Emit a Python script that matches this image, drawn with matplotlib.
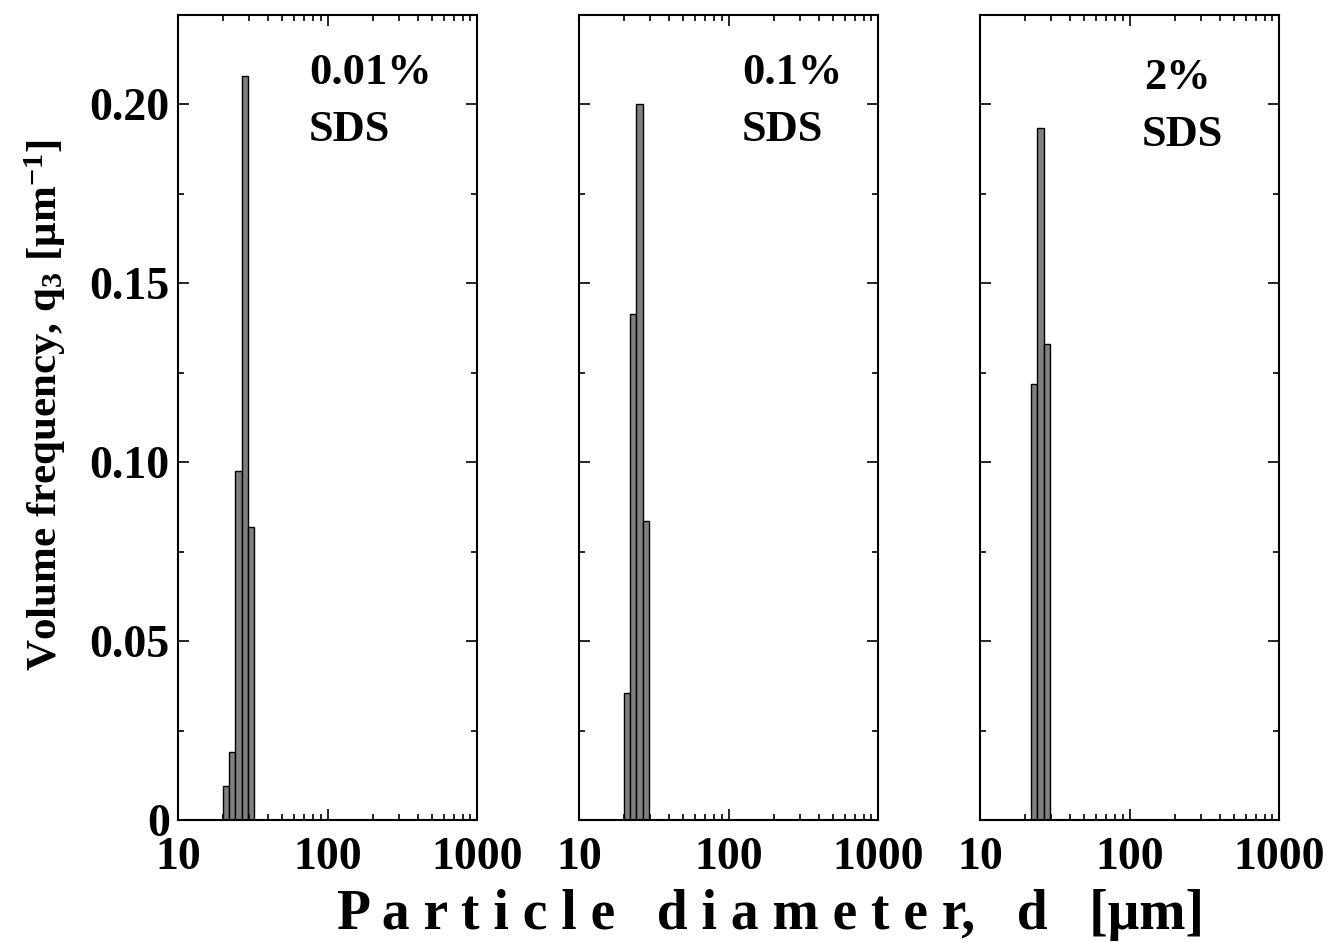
import matplotlib
matplotlib.use("Agg")
import matplotlib.pyplot as plt
from matplotlib.ticker import LogLocator, FuncFormatter, MultipleLocator, NullFormatter

plt.rcParams['font.family'] = ['Liberation Serif', 'DejaVu Serif']
plt.rcParams['font.weight'] = 'bold'
plt.rcParams['mathtext.fontset'] = 'custom'
plt.rcParams['mathtext.rm'] = 'Liberation Serif:bold'
plt.rcParams['mathtext.it'] = 'Liberation Serif:bold'
plt.rcParams['mathtext.bf'] = 'Liberation Serif:bold'

# bin edges (um), shared by all panels
bin_left = [20.0, 22.0, 24.2, 26.6, 29.3]
bin_right = [22.0, 24.2, 26.6, 29.3, 32.2]

# volume frequency per bin for each SDS concentration
q3_001 = [0.0095, 0.019, 0.0975, 0.208, 0.082]
q3_01 = [0.0355, 0.1415, 0.200, 0.0835, 0.0]
q3_2 = [0.0, 0.122, 0.1935, 0.133, 0.0]

labels = ["0.01%", "0.1%", "2%"]
series = [q3_001, q3_01, q3_2]
yticks = [0, 0.05, 0.10, 0.15, 0.20]
yticklabels = ["0", "0.05", "0.10", "0.15", "0.20"]

fig = plt.figure(figsize=(13.28, 9.43), dpi=100)
lefts = [178 / 1328, 579 / 1328, 980 / 1328]
width = 299 / 1328
bottom = 123 / 943
height = 805 / 943
text_pos = [(0.438, 0.928, 0.857), (0.545, 0.928, 0.857), (0.548, 0.922, 0.851)]

for i in range(3):
    ax = fig.add_axes([lefts[i], bottom, width, height])
    widths = [r - l for l, r in zip(bin_left, bin_right)]
    ax.bar(bin_left, series[i], width=widths, align='edge',
           color='#7f7f7f', edgecolor='black', linewidth=1.0)
    ax.set_xscale('log')
    ax.set_xlim(10, 1000)
    ax.set_ylim(0, 0.225)
    ax.xaxis.set_major_locator(LogLocator(base=10, numticks=5))
    ax.xaxis.set_minor_locator(LogLocator(base=10, subs=range(2, 10), numticks=10))
    ax.xaxis.set_major_formatter(FuncFormatter(lambda v, p: f"{v:g}"))
    ax.xaxis.set_minor_formatter(NullFormatter())
    ax.set_yticks(yticks)
    ax.yaxis.set_minor_locator(MultipleLocator(0.025))
    if i == 0:
        ax.set_yticklabels(yticklabels)
    else:
        ax.set_yticklabels([])
    ax.tick_params(which='both', direction='in', top=True, right=True,
                   labelsize=33, width=1.2)
    ax.tick_params(which='major', length=8)
    ax.tick_params(which='minor', length=4)
    ax.tick_params(axis='x', which='major', pad=12)
    ax.tick_params(axis='y', which='major', pad=6)
    for s in ax.spines.values():
        s.set_linewidth(1.5)
    for t in ax.get_xticklabels() + ax.get_yticklabels():
        t.set_fontweight('bold')
    tx, ty1, ty2 = text_pos[i]
    ax.text(tx, ty1, labels[i], transform=ax.transAxes, fontsize=32,
            fontweight='bold', ha='left', va='center')
    ax.text(tx - (0.007 if i == 2 else 0), ty2, "SDS", transform=ax.transAxes,
            fontsize=32, fontweight='bold', ha='left', va='center')

fig.text(0.034, 0.5705, r"Volume frequency, q$_3$ [$\mu$m$^{-1}$]", rotation=90,
         ha='center', va='center', fontsize=31, fontweight='bold')
fig.text(0.58, 0.03, "P a r t i c l e   d i a m e t e r,   d   [\u03bcm]",
         ha='center', va='center', fontsize=40, fontweight='bold')

fig.savefig("out.png", dpi=100)
